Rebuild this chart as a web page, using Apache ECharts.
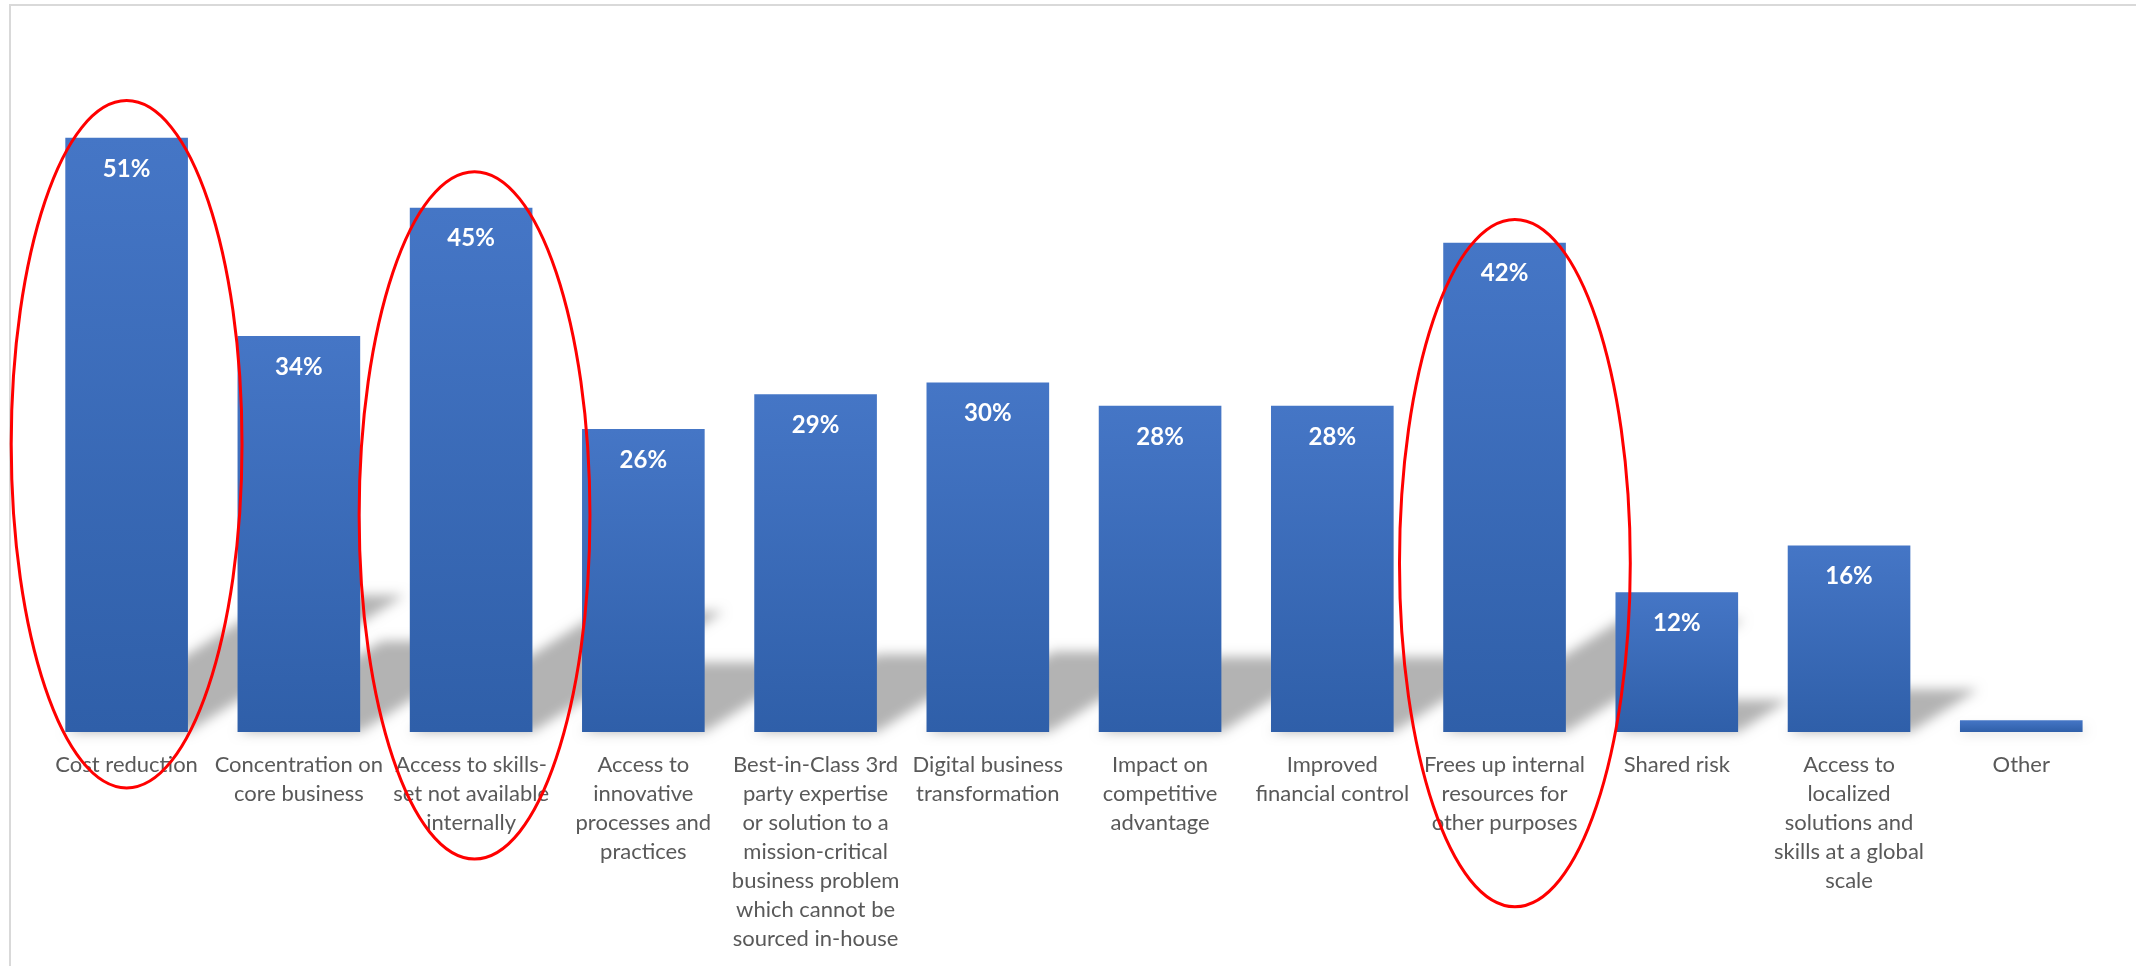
<!DOCTYPE html>
<html>
<head>
<meta charset="utf-8">
<script src="https://cdn.jsdelivr.net/npm/echarts@6/dist/echarts.min.js"></script>
<style>
  html, body { margin: 0; padding: 0; background: #ffffff; }
  #chart { width: 2136px; height: 966px; }
</style>
</head>
<body>
<div id="chart"></div>
<script>
// Reasons given for outsourcing (share of respondents, %)
const categories = [
  'Cost reduction',
  'Concentration on\ncore business',
  'Access to skills-\nset not available\ninternally',
  'Access to\ninnovative\nprocesses and\npractices',
  'Best-in-Class 3rd\nparty expertise\nor solution to a\nmission-critical\nbusiness problem\nwhich cannot be\nsourced in-house',
  'Digital business\ntransformation',
  'Impact on\ncompetitive\nadvantage',
  'Improved\nfinancial control',
  'Frees up internal\nresources for\nother purposes',
  'Shared risk',
  'Access to\nlocalized\nsolutions and\nskills at a global\nscale',
  'Other'
];
const shares = [51, 34, 45, 26, 29, 30, 28, 28, 42, 12, 16, 1];

// Hand-drawn red rings: which bar, and the value (%) the ring is centred on
const ringedIndex = [0, 2, 8];
const ringMid = [24.7, 18.6, 14.5];
const ringShift = [0, 0.02, 0.06];

const chart = echarts.init(document.getElementById('chart'));

const GAP = 0.288;              // fraction of a category left empty between bars
const SHADOW_SKEW = Math.tan(20 * Math.PI / 180);
const SHADOW_SCALE = 0.23;
const OFF = 5000;               // draw shadow caster off-canvas, keep only its blur

function renderShadow(params, api) {
  const i = api.value(0);
  const v = api.value(1);
  const base = api.coord([i, 0]);
  const top = api.coord([i, v]);
  const bw = api.size([1, 0])[0] * (1 - GAP);
  const x0 = base[0] - bw / 2, x1 = base[0] + bw / 2;
  const h = base[1] - top[1];
  const dx = h * SHADOW_SKEW, dy = h * SHADOW_SCALE;
  return {
    type: 'polygon',
    shape: {
      points: [
        [x0 - OFF, base[1]], [x1 - OFF, base[1]],
        [x1 + dx - OFF, base[1] - dy], [x0 + dx - OFF, base[1] - dy]
      ]
    },
    style: {
      fill: '#000',
      shadowColor: '#b3b3b3',
      shadowBlur: 12,
      shadowOffsetX: OFF,
      shadowOffsetY: 0
    }
  };
}

function renderRing(params, api) {
  const i = api.value(0);
  const mid = api.value(1);
  const shift = api.value(2);
  const c = api.coord([i, mid]);
  const cw = api.size([1, 0])[0];
  const ry = api.size([0, 29.5])[1];
  return {
    type: 'ellipse',
    shape: { cx: c[0] + shift * cw, cy: c[1], rx: cw * 0.67, ry: ry },
    style: { fill: 'none', stroke: '#ff0000', lineWidth: 3 }
  };
}

const valueLabel = {
  show: true,
  formatter: '{c}%',
  color: '#ffffff',
  fontFamily: 'Lato, "Noto Sans", sans-serif',
  fontWeight: 'bold',
  fontSize: 24,
  lineHeight: 24
};

chart.setOption({
  animation: false,
  backgroundColor: '#ffffff',
  graphic: [
    {
      type: 'rect',
      z: -100,
      silent: true,
      shape: { x: 10, y: 5, width: 2300, height: 1000 },
      style: {
        fill: {
          type: 'linear', x: 0, y: 0, x2: 0, y2: 1, global: true,
          colorStops: [
            { offset: 0.0, color: '#ffffff' },
            { offset: 0.15, color: '#fdfdfd' },
            { offset: 0.31, color: '#f6f6f6' },
            { offset: 0.47, color: '#ededed' },
            { offset: 0.62, color: '#e2e2e2' },
            { offset: 0.756, color: '#d9d9d9' },
            { offset: 0.758, color: '#e8e8e8' },
            { offset: 0.88, color: '#f3f3f3' },
            { offset: 1.0, color: '#ffffff' }
          ]
        },
        stroke: '#d9d9d9',
        lineWidth: 2
      }
    }
  ],
  grid: { left: 40.5, right: 28.6, top: 33, bottom: 234 },
  xAxis: {
    type: 'category',
    data: categories,
    axisLine: { show: false },
    axisTick: { show: false },
    axisLabel: {
      interval: 0,
      margin: 18,
      color: '#595959',
      fontFamily: 'Lato, "Noto Sans", sans-serif',
      fontSize: 22,
      lineHeight: 29
    }
  },
  yAxis: {
    type: 'value',
    min: 0,
    max: 60,
    show: false,
    splitLine: { show: false }
  },
  series: [
    {
      type: 'custom',
      z: 1,
      clip: false,
      silent: true,
      renderItem: renderShadow,
      encode: { x: 0, y: 1 },
      data: shares.map((v, i) => [i, v])
    },
    {
      type: 'bar',
      z: 2,
      barCategoryGap: (GAP * 100) + '%',
      itemStyle: {
        color: {
          type: 'linear', x: 0, y: 0, x2: 0, y2: 1,
          colorStops: [
            { offset: 0, color: '#4576c6' },
            { offset: 1, color: '#2f5fa9' }
          ]
        }
      },
      label: Object.assign({ position: 'insideTop', distance: 19 }, valueLabel),
      // a bar too short to hold its label carries it just above instead
      data: shares.map(v => v < 5
        ? { value: v, label: Object.assign({}, valueLabel, { position: 'top', distance: 4 }) }
        : { value: v })
    },
    {
      type: 'custom',
      z: 3,
      clip: false,
      silent: true,
      renderItem: renderRing,
      encode: { x: 0, y: 1 },
      data: ringedIndex.map((idx, k) => [idx, ringMid[k], ringShift[k]])
    }
  ]
});
</script>
</body>
</html>
